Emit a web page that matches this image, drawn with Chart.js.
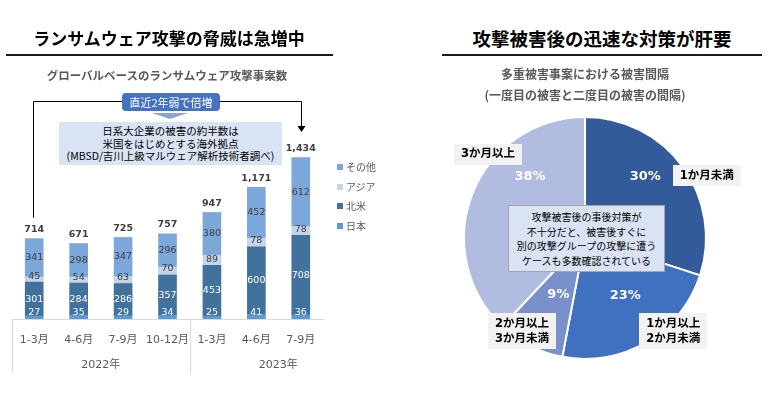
<!DOCTYPE html>
<html lang="ja">
<head>
<meta charset="utf-8">
<script src="https://cdn.jsdelivr.net/npm/chart.js@4/dist/chart.umd.min.js"></script>
<style>
body { margin: 0; background: #fff; font-family: "Noto Sans CJK JP", sans-serif; }
#page { position: relative; width: 768px; height: 395px; overflow: hidden; background: #fff; }
.abs { position: absolute; }
.title { font-weight: bold; color: #000; text-align: center; line-height: 22px; white-space: nowrap; }
.rule { height: 2px; background: #1a1a1a; }
.sub { font-weight: bold; color: #595959; text-align: center; white-space: nowrap; font-size: 12px; line-height: 20px; }
.legend { font-size: 10px; color: #595959; line-height: 19.5px; }
.legend span { display: inline-block; width: 6px; height: 6px; margin-right: 3px; vertical-align: 1px; }
#badge { left: 122px; top: 93px; width: 98px; height: 18px; background: #4472C4; border-radius: 4px;
  color: #fff; font-size: 11px; line-height: 18px; text-align: center; }
#chev { left: 152px; top: 113px; width: 0; height: 0; border-left: 18px solid transparent;
  border-right: 18px solid transparent; border-top: 6px solid #8EA6CF; }
#note1 { left: 59px; top: 122px; width: 223px; height: 43px; background: #DAE3F3; color: #000;
  font-size: 10.5px; line-height: 12.5px; text-align: center; padding-top: 3px; box-sizing: border-box; white-space: nowrap; }
#note2 { left: 508px; top: 205px; width: 157px; height: 67px; background: #DAE3F3; border: 1px solid #A6A6A6;
  color: #000; font-size: 10px; line-height: 14.5px; text-align: center; padding-top: 4px; box-sizing: border-box; white-space: nowrap; }
</style>
</head>
<body>
<div id="page">
  <canvas id="bars" class="abs" width="384" height="395" style="left:0;top:0"></canvas>
  <canvas id="pie" class="abs" width="384" height="295" style="left:384px;top:100px"></canvas>

  <div class="abs title" style="left:5px;top:27px;width:328px;font-size:17px">ランサムウェア攻撃の脅威は急増中</div>
  <div class="abs rule" style="left:6px;top:54px;width:327px"></div>
  <div class="abs sub" style="left:17px;top:65px;width:300px;font-size:11.5px">グローバルベースのランサムウェア攻撃事案数</div>

  <div class="abs title" style="left:452px;top:27px;width:300px;font-size:18.5px">攻撃被害後の迅速な対策が肝要</div>
  <div class="abs rule" style="left:442px;top:54px;width:320px"></div>
  <div class="abs sub" style="left:435px;top:64px;width:300px">多重被害事案における被害間隔</div>
  <div class="abs sub" style="left:435px;top:85px;width:300px">(一度目の被害と二度目の被害の間隔)</div>

  <div class="abs legend" id="legend" style="left:337px;top:157px"></div>

  <div class="abs" id="badge">直近2年弱で倍増</div>
  <div class="abs" id="chev"></div>
  <div class="abs" id="note1">日系大企業の被害の約半数は<br>米国をはじめとする海外拠点<br>(MBSD/吉川上級マルウェア解析技術者調べ)</div>
  <div class="abs" id="note2">攻撃被害後の事後対策が<br>不十分だと、被害後すぐに<br>別の攻撃グループの攻撃に遭う<br>ケースも多数確認されている</div>
</div>

<script>
// ---- data: ransomware incidents per quarter ----
const quarters = ["1-3月", "4-6月", "7-9月", "10-12月", "1-3月", "4-6月", "7-9月"];
const years = ["2022年", "2023年"];
const yearSpans = [4, 3];
const japan = [27, 35, 29, 34, 25, 41, 36];
const northAmerica = [301, 284, 286, 357, 453, 600, 708];
const asia = [45, 54, 63, 70, 89, 78, 78];
const other = [341, 298, 347, 296, 380, 452, 612];

// ---- data: interval between first and second incident ----
const intervals = ["1か月未満", "1か月以上\n2か月未満", "2か月以上\n3か月未満", "3か月以上"];
const shares = [30, 23, 9, 38];

// styles
const regionColors = { japan: "#5B9BD5", na: "#41719C", asia: "#C5D4E9", other: "#7BA7DA" };
const pieColors = ["#335A9A", "#4070C0", "#7A90CC", "#B1BDE0"];
// label placement: [angle shift from slice middle (deg), distance as fraction of radius]
const pctPlace = [[-9.5, 0.71], [-4.4, 0.58], [-2, 0.52], [26.4, 0.68]];
const namePlace = [[8.9, 1.13], [-12.8, 1.06], [7.1, 0.93], [19.3, 1.06]];

const totals = quarters.map((q, i) => japan[i] + northAmerica[i] + asia[i] + other[i]);
const numFont = '"DejaVu Sans", "Noto Sans CJK JP"';

// legend (その他 on top)
const legendItems = [["その他", regionColors.other], ["アジア", regionColors.asia], ["北米", regionColors.na], ["日本", regionColors.japan]];
document.getElementById("legend").innerHTML = legendItems
    .map(it => '<div><span style="background:' + it[1] + '"></span>' + it[0] + '</div>').join("");

const barExtras = {
    id: "barExtras",
    afterDatasetsDraw(chart) {
        const ctx = chart.ctx;
        const xs = chart.scales.x, ys = chart.scales.y;
        const area = chart.chartArea;
        ctx.save();
        ctx.textAlign = "center";
        ctx.textBaseline = "middle";
        // values inside the segments
        chart.data.datasets.forEach((ds, i) => {
            const meta = chart.getDatasetMeta(i);
            ctx.font = "9.5px " + numFont;
            ctx.fillStyle = ds.labelColor;
            meta.data.forEach((el, j) => {
                const mid = Math.min((el.y + el.base) / 2, el.base - 6);
                ctx.fillText(String(ds.data[j]), el.x, mid);
            });
        });
        // totals on top
        ctx.font = "bold 9.5px " + numFont;
        ctx.fillStyle = "#404040";
        totals.forEach((t, j) => {
            ctx.fillText(t.toLocaleString("en-US"), xs.getPixelForValue(j), ys.getPixelForValue(t) - 9);
        });
        // year groups below the axis
        ctx.strokeStyle = "#D9D9D9";
        ctx.lineWidth = 1;
        ctx.font = "11px " + numFont;
        ctx.fillStyle = "#595959";
        let start = 0;
        let left = area.left;
        years.forEach((yr, g) => {
            const end = start + yearSpans[g];
            let right;
            if (end < quarters.length) {
                right = (xs.getPixelForValue(end - 1) + xs.getPixelForValue(end)) / 2;
            } else {
                right = area.right + 44;
            }
            ctx.beginPath();
            ctx.moveTo(Math.round(left) + 0.5, area.bottom);
            ctx.lineTo(Math.round(left) + 0.5, area.bottom + 54);
            ctx.stroke();
            ctx.fillText(yr, (left + right) / 2, area.bottom + 46);
            left = right;
            start = end;
        });
        // bracket from first to last bar
        const x1 = Math.round(xs.getPixelForValue(0)) - 0.5;
        const x7 = Math.round(xs.getPixelForValue(quarters.length - 1)) + 0.5;
        ctx.strokeStyle = "#000";
        ctx.beginPath();
        ctx.moveTo(x1, ys.getPixelForValue(totals[0]) - 21);
        ctx.lineTo(x1, 101.5);
        ctx.lineTo(x7, 101.5);
        ctx.lineTo(x7, 127);
        ctx.stroke();
        ctx.fillStyle = "#000";
        ctx.beginPath();
        ctx.moveTo(x7 - 4, 126);
        ctx.lineTo(x7 + 4, 126);
        ctx.lineTo(x7, 132);
        ctx.closePath();
        ctx.fill();
        ctx.restore();
    }
};

new Chart(document.getElementById("bars"), {
    type: "bar",
    data: {
        labels: quarters,
        datasets: [
            { label: "日本", data: japan, backgroundColor: regionColors.japan, labelColor: "#fff" },
            { label: "北米", data: northAmerica, backgroundColor: regionColors.na, labelColor: "#fff" },
            { label: "アジア", data: asia, backgroundColor: regionColors.asia, labelColor: "#404040" },
            { label: "その他", data: other, backgroundColor: regionColors.other, labelColor: "#404040" }
        ]
    },
    options: {
        responsive: false,
        animation: false,
        barThickness: 18,
        layout: { padding: { left: 12, right: 61, top: 139, bottom: 0 } },
        plugins: { legend: { display: false }, tooltip: { enabled: false } },
        scales: {
            x: {
                stacked: true,
                grid: { display: false },
                border: { display: true, color: "#D9D9D9" },
                ticks: { color: "#595959", font: { family: numFont, size: 11 }, padding: 7, maxRotation: 0, autoSkip: false },
                afterFit: s => { s.height = 76; }
            },
            y: { stacked: true, display: false, min: 0, max: 1600 }
        }
    },
    plugins: [barExtras]
});

const pieExtras = {
    id: "pieExtras",
    afterDatasetsDraw(chart) {
        const ctx = chart.ctx;
        const meta = chart.getDatasetMeta(0);
        ctx.save();
        ctx.textAlign = "center";
        ctx.textBaseline = "middle";
        meta.data.forEach((arc, i) => {
            const p = arc.getProps(["x", "y", "startAngle", "endAngle", "outerRadius"], true);
            const mid = (p.startAngle + p.endAngle) / 2;
            // percentage
            let a = mid + pctPlace[i][0] * Math.PI / 180;
            let r = pctPlace[i][1] * p.outerRadius;
            ctx.font = "bold 13px " + numFont;
            ctx.fillStyle = "#fff";
            ctx.fillText(shares[i] + "%", p.x + r * Math.cos(a), p.y + r * Math.sin(a));
            // category name in a grey box
            a = mid + namePlace[i][0] * Math.PI / 180;
            r = namePlace[i][1] * p.outerRadius;
            const cx = p.x + r * Math.cos(a), cy = p.y + r * Math.sin(a);
            const lines = intervals[i].split("\n");
            ctx.font = "bold 11.5px " + numFont;
            const w = Math.max(...lines.map(l => ctx.measureText(l).width)) + 14;
            const h = lines.length * 15 + 6;
            ctx.fillStyle = "#F2F2F2";
            ctx.fillRect(Math.round(cx - w / 2), Math.round(cy - h / 2), Math.round(w), h);
            ctx.fillStyle = "#000";
            lines.forEach((l, k) => {
                ctx.fillText(l, cx, cy - (lines.length - 1) * 7.5 + k * 15);
            });
        });
        ctx.restore();
    }
};

new Chart(document.getElementById("pie"), {
    type: "pie",
    data: {
        labels: intervals,
        datasets: [{ data: shares, backgroundColor: pieColors, borderColor: "#fff", borderWidth: 2 }]
    },
    options: {
        responsive: false,
        animation: false,
        layout: { padding: { left: 79, right: 61, top: 16, bottom: 35 } },
        plugins: { legend: { display: false }, tooltip: { enabled: false } }
    },
    plugins: [pieExtras]
});
</script>
</body>
</html>
